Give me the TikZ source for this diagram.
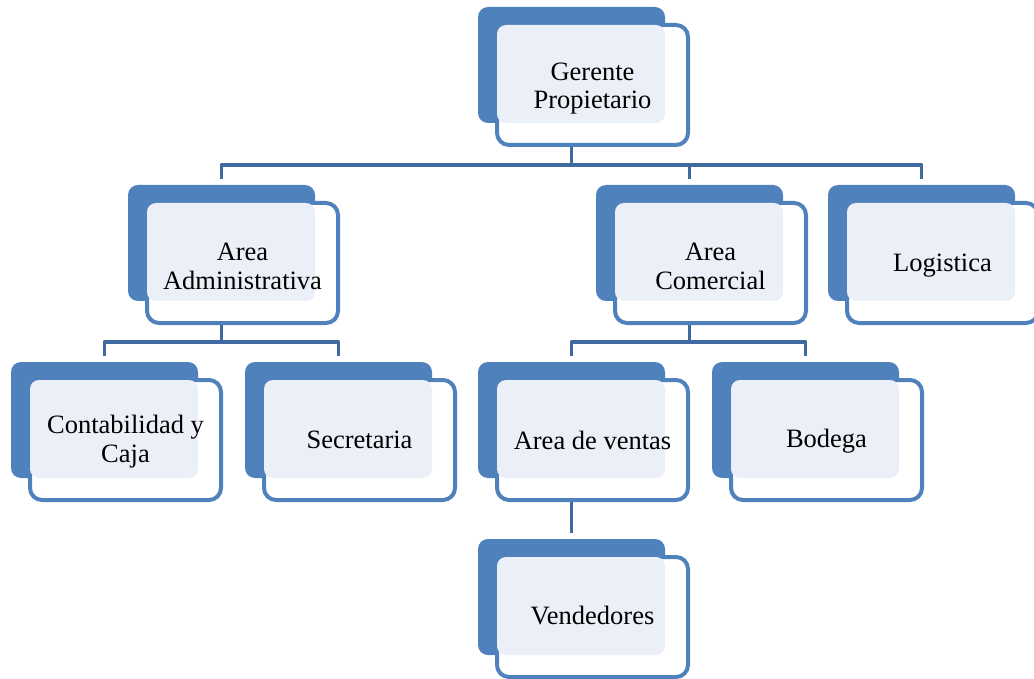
\documentclass[tikz,border=0pt]{standalone}
\usepackage{fontspec}
\setmainfont{Liberation Serif}
\definecolor{boxblue}{RGB}{79,129,189}
\definecolor{connblue}{RGB}{62,106,160}
\definecolor{lightc}{RGB}{235,240,248}
\tikzset{
  backbox/.style={fill=boxblue, rounded corners=10pt, minimum width=187pt, minimum height=116pt, inner sep=0pt, draw=none},
  frontbox/.style={fill=white, draw=boxblue, line width=4pt, rounded corners=12pt, minimum width=191pt, minimum height=120pt, inner sep=0pt},
  lbl/.style={align=center, font=\fontsize{26.5pt}{28.5pt}\selectfont, text=black, inner sep=0pt},
  conn/.style={draw=connblue, line width=3.8pt, line join=round}
}
\newcommand{\obox}[5][0]{%
  \begin{scope}[shift={(#3,#4)}]
    \node[backbox] (#2B) at (93.5,58) {};
    \node[frontbox] (#2) at (114.5,78) {};
    \fill[lightc, rounded corners=9pt] (19,18) rectangle (187,116);
    \node[lbl] (#2T) at (114.5,78+#1) {#5};
  \end{scope}}
\begin{document}
\begin{tikzpicture}[x=1pt,y=-1pt]
\useasboundingbox (0,0) rectangle (1034,679);
\clip (0,0) rectangle (1034,679);
\coordinate (bar1) at (0,165);
\coordinate (bar2) at (0,342);
% helper nodes at the positions of the back boxes (for connectors)
\begin{scope}[every node/.style={inner sep=0pt, minimum width=187pt, minimum height=116pt}]
\node (gB) at (571.5,65) {};
\node (aB) at (221.5,243) {};
\node (cB) at (689.5,243) {};
\node (lB) at (921.5,243) {};
\node (kB) at (104.5,420) {};
\node (sB) at (338.5,420) {};
\node (vB) at (571.5,420) {};
\node (bB) at (805.5,420) {};
\node (dB) at (571.5,597) {};
\end{scope}
% connectors
\draw[conn] (gB.south) -- (gB.south |- bar1);
\draw[conn] ([yshift=6pt]aB.north) -- (aB.north |- bar1) -- (lB.north |- bar1) -- ([yshift=6pt]lB.north);
\draw[conn] (cB.north |- bar1) -- ([yshift=6pt]cB.north);
\draw[conn] (aB.south) -- (aB.south |- bar2);
\draw[conn] ([yshift=6pt]kB.north) -- (kB.north |- bar2) -- (sB.north |- bar2) -- ([yshift=6pt]sB.north);
\draw[conn] (cB.south) -- (cB.south |- bar2);
\draw[conn] ([yshift=6pt]vB.north) -- (vB.north |- bar2) -- (bB.north |- bar2) -- ([yshift=6pt]bB.north);
\draw[conn] (vB.south) -- ([yshift=6pt]dB.north);
% boxes
\obox[3.5]{g}{478}{7}{Gerente\\Propietario}
\obox[3.5]{a}{128}{185}{Area\\Administrativa}
\obox[3.5]{c}{596}{185}{Area\\Comercial}
\obox[3]{l}{828}{185}{Logistica}
\obox[1.5]{k}{11}{362}{Contabilidad y\\Caja}
\obox{s}{245}{362}{Secretaria}
\obox{v}{478}{362}{Area de ventas}
\obox[1]{b}{712}{362}{Bodega}
\obox[-1]{d}{478}{539}{Vendedores}
\end{tikzpicture}
\end{document}
